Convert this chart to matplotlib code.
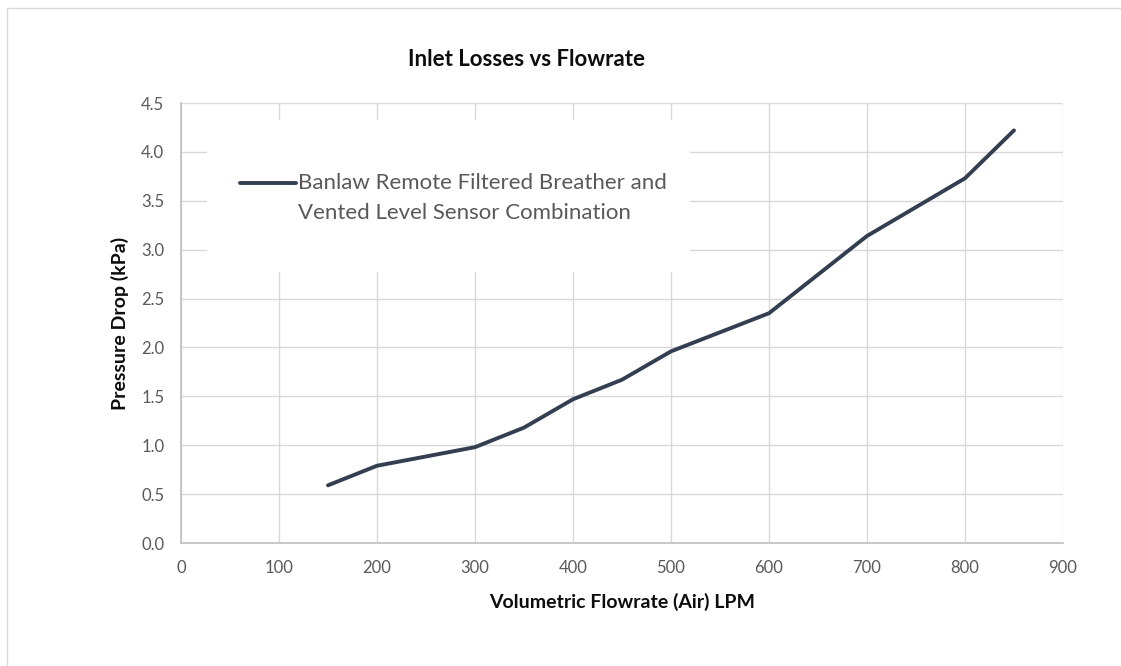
import numpy as np
import matplotlib
matplotlib.use("Agg")
import matplotlib.pyplot as plt
from matplotlib.patches import Rectangle
from matplotlib.legend_handler import HandlerLine2D

# ---- data ----
flowrate = [150, 200, 300, 350, 400, 450, 500, 600, 700, 800, 850]
pressure_drop = [0.59, 0.79, 0.98, 1.18, 1.47, 1.67, 1.96, 2.35, 3.14, 3.73, 4.22]
series_label = "Banlaw Remote Filtered Breather and\nVented Level Sensor Combination"
title = "Inlet Losses vs Flowrate"
xlabel = "Volumetric Flowrate (Air) LPM"
ylabel = "Pressure Drop (kPa)"
xticks = [0, 100, 200, 300, 400, 500, 600, 700, 800, 900]
yticks = [0.0, 0.5, 1.0, 1.5, 2.0, 2.5, 3.0, 3.5, 4.0, 4.5]

plt.rcParams['font.family'] = ['Lato', 'DejaVu Sans']

W, H = 1121, 666
fig = plt.figure(figsize=(W / 100, H / 100), dpi=100)
fig.patch.set_facecolor('white')

# chart area border (only top and left visible in the reference)
fig.add_artist(Rectangle((7 / W, -0.1), 1.2, 1 - 8 / H + 0.1, transform=fig.transFigure,
                         fill=False, edgecolor='#D9D9D9', linewidth=1.0))

L, R, T, B = 181, 1063, 103, 543
ax = fig.add_axes([L / W, 1 - B / H, (R - L) / W, (B - T) / H])

LINE_COLOR = '#333F50'
ax.plot(flowrate, pressure_drop, color=LINE_COLOR, linewidth=2.8, solid_capstyle='round',
        label=series_label, zorder=3)

ax.set_xlim(0, 900)
ax.set_ylim(0, 4.5)
ax.set_xticks(xticks)
ax.set_yticks(yticks)
ax.set_xticklabels([str(v) for v in xticks])
ax.set_yticklabels([f"{v:.1f}" for v in yticks])
ax.grid(True, color='#D9D9D9', linewidth=1.0)
ax.set_axisbelow(True)
for s in ['top', 'right']:
    ax.spines[s].set_visible(False)
for s in ['left', 'bottom']:
    ax.spines[s].set_color('#BFBFBF')
    ax.spines[s].set_linewidth(1.2)
ax.tick_params(length=0, labelsize=12, labelcolor='#595959')
ax.tick_params(axis='y', pad=12)
ax.tick_params(axis='x', pad=12.5)

ax.set_xlabel(xlabel, fontsize=14, fontweight='bold', color='#0D0D0D', labelpad=12)
ax.set_ylabel(ylabel, fontsize=14, fontweight='bold', color='#0D0D0D', labelpad=9)
fig.text(526 / W, 1 - 60 / H, title, fontsize=16, fontweight='bold', color='#0D0D0D',
         ha='center', va='center')

# white legend background
ax.add_patch(Rectangle(((207 - L) / (R - L), (B - 272) / (B - T)),
                       (690 - 207) / (R - L), (272 - 120) / (B - T),
                       transform=ax.transAxes, facecolor='white', edgecolor='none', zorder=1))

LEG_FS = 16
LSP = 1.6
LINE_GAP_PX = 30


class UpperHandler(HandlerLine2D):
    def create_artists(self, legend, orig_handle, xdescent, ydescent, width, height, fontsize, trans):
        arts = super().create_artists(legend, orig_handle, xdescent, ydescent, width, height,
                                      fontsize, trans)
        shift = 0.5 * LINE_GAP_PX * 72 / 100
        for a in arts:
            a.set_ydata(np.asarray(a.get_ydata()) + shift)
        return arts


leg = ax.legend(loc='upper left', bbox_to_anchor=(240 / W, 1 - 173 / H),
                bbox_transform=fig.transFigure, frameon=False, fontsize=LEG_FS,
                handlelength=2.5, handletextpad=0.12, borderpad=0, borderaxespad=0,
                labelcolor='#595959', handler_map={plt.Line2D: UpperHandler()})
for t in leg.get_texts():
    t.set_linespacing(LSP)
for h in leg.legend_handles:
    h.set_linewidth(2.8)

fig.savefig('out.png', dpi=100, facecolor='white')
